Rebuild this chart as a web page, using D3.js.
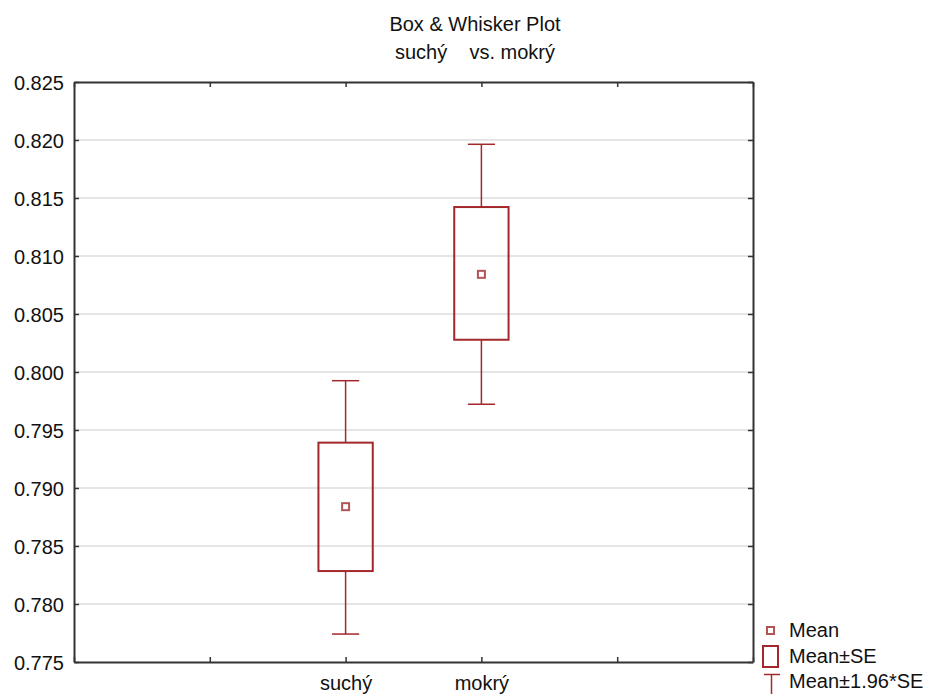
<!DOCTYPE html>
<html>
<head>
<meta charset="utf-8">
<script src="https://cdn.jsdelivr.net/npm/d3@7"></script>
<style>
html,body{margin:0;padding:0;background:#fff;}
svg{display:block;font-family:"Liberation Sans",Arial,sans-serif;}
</style>
</head>
<body>
<svg id="chart" width="928" height="694"></svg>
<script>
const categories = ["suchý", "mokrý"];
const categoryPos = [2, 3];
const means = [0.78839, 0.80842];
const seLow = [0.78284, 0.80278];
const seHigh = [0.79391, 0.81422];
const ciLow = [0.77741, 0.79722];
const ciHigh = [0.79925, 0.81963];
const yTicks = [0.775, 0.780, 0.785, 0.790, 0.795, 0.800, 0.805, 0.810, 0.815, 0.820, 0.825];
const xTicks = [0, 1, 2, 3, 4, 5];
const titleLines = ["Box & Whisker Plot", "suchý    vs. mokrý"];
const legendLabels = ["Mean", "Mean±SE", "Mean±1.96*SE"];

(function () {
const W = 928, H = 694;
const m = {left: 74, right: 175, top: 82, bottom: 32};
const svg = d3.select("#chart");
const x = d3.scaleLinear().domain([0, 5]).range([m.left, W - m.right]);
const y = d3.scaleLinear().domain([0.775, 0.825]).range([H - m.bottom, m.top]);

const RED = "#a3282b";
const MEANC = "#b35456";
const FONT = 20;

// grid
svg.append("g").selectAll("line").data(yTicks.slice(1, -1)).join("line")
  .attr("x1", x(0)).attr("x2", x(5))
  .attr("y1", d => y(d)).attr("y2", d => y(d))
  .attr("stroke", "#dcdcdc").attr("stroke-width", 1.5);

// axes
const axLeft = svg.append("g").attr("transform", `translate(${x(0)},0)`)
  .call(d3.axisLeft(y).tickValues(yTicks).tickFormat(d3.format(".3f")).tickSizeInner(-5).tickSizeOuter(0).tickPadding(10));
const axRight = svg.append("g").attr("transform", `translate(${x(5)},0)`)
  .call(d3.axisRight(y).tickValues(yTicks).tickFormat("").tickSizeInner(-5).tickSizeOuter(0));
const axTop = svg.append("g").attr("transform", `translate(0,${y(0.825)})`)
  .call(d3.axisTop(x).tickValues(xTicks).tickFormat("").tickSizeInner(-5).tickSizeOuter(0));
const axBottom = svg.append("g").attr("transform", `translate(0,${y(0.775)})`)
  .call(d3.axisBottom(x).tickValues(xTicks)
    .tickFormat(d => { const i = categoryPos.indexOf(d); return i >= 0 ? categories[i] : ""; })
    .tickSizeInner(-5).tickSizeOuter(0).tickPadding(14));
[axLeft, axRight, axTop, axBottom].forEach(g => {
  g.selectAll(".domain").attr("stroke", "#333").attr("stroke-width", 2);
  g.selectAll(".tick line").attr("stroke", "#333").attr("stroke-width", 1.5);
  g.selectAll("text").attr("font-size", FONT).attr("fill", "#111").attr("font-family", "'Liberation Sans',Arial,sans-serif");
});
axLeft.selectAll("text").attr("dy", "0.36em");
axBottom.selectAll("text").attr("dy", "0.71em");

// boxes
const boxW = 0.4, capW = 0.2;
const g = svg.append("g");
categories.forEach((c, i) => {
  const cx = x(categoryPos[i]);
  const half = (x(boxW) - x(0)) / 2;
  const capHalf = (x(capW) - x(0)) / 2;
  g.append("line").attr("x1", cx).attr("x2", cx).attr("y1", y(ciHigh[i])).attr("y2", y(seHigh[i]))
    .attr("stroke", RED).attr("stroke-width", 1.5);
  g.append("line").attr("x1", cx).attr("x2", cx).attr("y1", y(seLow[i])).attr("y2", y(ciLow[i]))
    .attr("stroke", RED).attr("stroke-width", 1.5);
  g.append("line").attr("x1", cx - capHalf).attr("x2", cx + capHalf).attr("y1", y(ciHigh[i])).attr("y2", y(ciHigh[i]))
    .attr("stroke", RED).attr("stroke-width", 1.5);
  g.append("line").attr("x1", cx - capHalf).attr("x2", cx + capHalf).attr("y1", y(ciLow[i])).attr("y2", y(ciLow[i]))
    .attr("stroke", RED).attr("stroke-width", 1.5);
  g.append("rect").attr("x", cx - half).attr("width", 2 * half)
    .attr("y", y(seHigh[i])).attr("height", y(seLow[i]) - y(seHigh[i]))
    .attr("fill", "none").attr("stroke", RED).attr("stroke-width", 2);
  g.append("rect").attr("x", cx - 3.5).attr("y", y(means[i]) - 3.5).attr("width", 7).attr("height", 7)
    .attr("fill", "#fff").attr("stroke", MEANC).attr("stroke-width", 2);
});

// title
svg.append("g").selectAll("text").data(titleLines).join("text")
  .attr("x", 475).attr("y", (d, i) => 31 + i * 28)
  .attr("text-anchor", "middle").attr("font-size", FONT).attr("fill", "#111")
  .attr("xml:space", "preserve").style("white-space", "pre")
  .text(d => d);

// legend
const lg = svg.append("g");
lg.append("rect").attr("x", 767).attr("y", 627).attr("width", 7).attr("height", 7)
  .attr("fill", "#fff").attr("stroke", MEANC).attr("stroke-width", 2);
lg.append("rect").attr("x", 763).attr("y", 646).attr("width", 15).attr("height", 21)
  .attr("fill", "none").attr("stroke", RED).attr("stroke-width", 2);
lg.append("line").attr("x1", 764).attr("x2", 780).attr("y1", 674.5).attr("y2", 674.5)
  .attr("stroke", RED).attr("stroke-width", 1.5);
lg.append("line").attr("x1", 771.5).attr("x2", 771.5).attr("y1", 674.5).attr("y2", 694)
  .attr("stroke", RED).attr("stroke-width", 1.5);
lg.selectAll("text").data(legendLabels).join("text")
  .attr("x", 789).attr("y", (d, i) => 637 + i * 25.5)
  .attr("font-size", FONT).attr("fill", "#111").text(d => d);
})();
</script>
</body>
</html>
